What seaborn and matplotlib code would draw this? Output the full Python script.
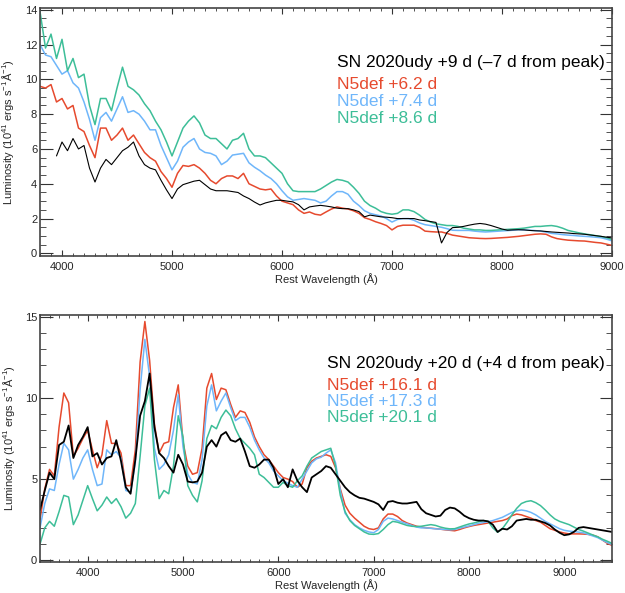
import numpy as np
import matplotlib
matplotlib.use("Agg")
import matplotlib.pyplot as plt
from matplotlib.ticker import MultipleLocator
import seaborn as sns

sns.set_style("ticks")
plt.rcParams['font.family'] = ['Liberation Sans', 'DejaVu Sans']
plt.rcParams['mathtext.fontset'] = 'custom'
plt.rcParams['mathtext.rm'] = 'Liberation Sans'
plt.rcParams['mathtext.it'] = 'Liberation Sans:italic'

RED = '#E64A2E'
BLUE = '#6FB6FA'
GREEN = '#3DBE98'

# ---- top panel: SN 2020udy +9 d vs N5def models (grid 3800..9000, 50 A) ----
wave_top = np.arange(3800, 9001, 50)

obs_top = [
    np.nan, np.nan, np.nan, 5.6, 6.4, 5.9, 6.6, 6.0, 6.2, 4.9,
    4.1, 4.9, 5.4, 5.1, 5.5, 5.9, 6.1, 6.4, 5.6, 5.1,
    4.9, 4.8, 4.2, 3.65, 3.15, 3.7, 3.95, 4.05, 4.15, 4.2,
    3.95, 3.7, 3.6, 3.6, 3.6, 3.55, 3.5, 3.3, 3.15, 2.95,
    2.78, 2.9, 2.98, 3.05, 3.05, 3.0, 2.96, 2.8, 2.5, 2.67,
    2.72, 2.76, 2.72, 2.67, 2.6, 2.57, 2.57, 2.5, 2.4, 2.1,
    2.2, 2.15, 2.1, 2.08, 2.05, 2.0, 2.0, 2.0, 2.0, 1.92,
    1.88, 1.83, 1.78, 0.6, 1.2, 1.48, 1.5, 1.55, 1.62, 1.68,
    1.72, 1.68, 1.6, 1.5, 1.4, 1.33, 1.35, 1.36, 1.35, 1.32,
    1.3, 1.29, 1.26, 1.23, 1.21, 1.19, 1.17, 1.14, 1.12, 1.1,
    1.06, 1.02, 0.98, 0.93, 0.89,
]
n5def_62 = [
    9.6, 9.5, 9.7, 8.7, 8.9, 8.3, 8.5, 7.2, 7.0, 6.2,
    5.5, 7.2, 7.2, 6.5, 6.8, 7.2, 6.5, 6.8, 6.3, 5.8,
    5.5, 5.3, 4.7, 4.3, 3.8, 4.6, 5.05, 5.0, 5.1, 4.9,
    4.6, 4.2, 4.0, 4.3, 4.45, 4.45, 4.3, 4.6, 4.0, 3.85,
    3.7, 3.65, 3.7, 3.3, 3.0, 2.9, 2.8, 2.5, 2.3, 2.38,
    2.25, 2.2, 2.38, 2.55, 2.67, 2.6, 2.55, 2.45, 2.3, 2.05,
    1.95, 1.82, 1.72, 1.6, 1.35, 1.55, 1.62, 1.62, 1.62, 1.5,
    1.28, 1.25, 1.23, 1.23, 1.15, 1.05, 1.0, 0.95, 0.9, 0.88,
    0.86, 0.85, 0.86, 0.88, 0.9, 0.92, 0.95, 0.98, 1.02, 1.06,
    1.1, 1.12, 1.1, 0.95, 0.85, 0.8, 0.76, 0.74, 0.72, 0.71,
    0.67, 0.63, 0.6, 0.53, 0.46,
]
n5def_74 = [
    12.0, 11.4, 11.3, 10.8, 10.3, 10.5, 9.8, 9.5, 8.7, 7.7,
    6.5, 7.8, 8.1, 7.6, 8.3, 9.0, 8.1, 8.2, 8.0, 7.6,
    7.1, 7.1, 6.2, 5.5, 4.8, 5.3, 6.1, 6.4, 6.6, 6.0,
    5.8, 5.75, 5.6, 5.1, 5.3, 5.65, 5.7, 5.75, 5.2, 4.95,
    4.75, 4.5, 4.3, 4.0, 3.6, 3.25, 3.05, 3.1, 3.15, 3.1,
    3.05, 2.9, 3.0, 3.3, 3.55, 3.55, 3.4, 3.0, 2.75, 2.45,
    2.3, 2.22, 2.15, 2.0, 1.8, 1.95, 2.0, 2.0, 1.9, 1.75,
    1.65, 1.6, 1.55, 1.5, 1.42, 1.33, 1.32, 1.32, 1.32, 1.28,
    1.25, 1.23, 1.25, 1.27, 1.29, 1.31, 1.33, 1.36, 1.35, 1.33,
    1.31, 1.28, 1.22, 1.15, 1.12, 1.08, 1.05, 1.03, 1.0, 0.98,
    0.96, 0.93, 0.9, 0.82, 0.72,
]
n5def_86 = [
    13.9, 11.8, 12.6, 11.2, 12.3, 10.5, 11.2, 10.1, 10.3, 8.5,
    7.4, 8.9, 8.9, 8.2, 9.5, 10.7, 9.6, 9.4, 9.1, 8.6,
    8.2, 7.6, 7.1, 6.4, 5.6, 6.4, 7.2, 7.6, 7.9, 7.5,
    6.8, 6.6, 6.6, 6.3, 6.0, 6.5, 6.6, 6.9, 6.0, 5.6,
    5.6, 5.5, 5.2, 4.9, 4.6, 4.0, 3.6, 3.55, 3.55, 3.55,
    3.55, 3.7, 3.9, 4.1, 4.25, 4.2, 4.1, 3.8, 3.45, 3.0,
    2.75, 2.6, 2.4, 2.3, 2.25, 2.3, 2.5, 2.5, 2.4, 2.2,
    1.95, 1.8, 1.7, 1.65, 1.6, 1.6, 1.55, 1.45, 1.4, 1.35,
    1.35, 1.32, 1.32, 1.34, 1.36, 1.38, 1.4, 1.42, 1.45, 1.5,
    1.55, 1.55, 1.58, 1.6, 1.55, 1.45, 1.32, 1.25, 1.18, 1.12,
    1.07, 1.02, 0.97, 0.9, 0.8,
]

# ---- bottom panel: SN 2020udy +20 d vs N5def models (grid 3500..9500, 50 A) ----
wave_bot = np.arange(3500, 9501, 50)

obs_bot = [
    3.1, 4.3, 5.4, 5.0, 7.1, 7.3, 8.3, 6.3, 7.1, 7.6,
    8.2, 6.4, 6.6, 5.9, 6.3, 6.4, 7.4, 6.1, 4.5, 4.1,
    6.2, 8.9, 9.8, 11.5, 8.2, 6.6, 6.3, 5.8, 5.4, 6.5,
    5.9, 4.85, 4.8, 4.85, 5.4, 7.0, 7.4, 7.0, 7.7, 7.9,
    7.4, 7.3, 7.5, 6.7, 5.8, 5.7, 5.9, 6.2, 6.2, 5.7,
    4.7, 5.0, 4.5, 5.6, 4.9, 4.5, 4.2, 5.1, 5.3, 5.5,
    5.8, 5.7, 5.3, 4.9, 4.5, 4.2, 4.0, 3.85, 3.8, 3.7,
    3.6, 3.45, 3.1, 3.6, 3.65, 3.55, 3.5, 3.5, 3.55, 3.6,
    3.15, 2.9, 2.8, 2.7, 2.75, 3.1, 3.25, 3.2, 3.0, 2.75,
    2.6, 2.5, 2.45, 2.45, 2.4, 2.2, 1.75, 1.95, 1.9, 2.1,
    2.45, 2.5, 2.55, 2.5, 2.5, 2.4, 2.3, 2.15, 1.9, 1.7,
    1.55, 1.6, 1.75, 2.0, 2.05, 2.0, 1.95, 1.9, 1.85, 1.8,
    1.75,
]
n5def_161 = [
    2.5, 4.4, 5.6, 5.2, 8.2, 10.3, 9.7, 6.4, 6.9, 7.5,
    8.0, 6.8, 5.7, 6.5, 8.6, 7.2, 7.2, 6.6, 4.6, 4.6,
    6.8, 12.2, 14.7, 12.3, 8.4, 6.6, 7.2, 7.3, 9.4, 10.8,
    7.3, 5.8, 5.3, 5.4, 6.9, 10.6, 11.5, 9.9, 10.6, 10.5,
    9.6, 8.8, 9.2, 9.1, 8.5, 7.6, 7.0, 6.5, 6.2, 5.8,
    5.4, 5.1, 5.0, 4.85, 4.5, 4.7, 5.7, 6.1, 6.3, 6.4,
    6.5, 6.4, 5.7, 4.4, 3.4, 2.9, 2.6, 2.35, 2.1, 1.95,
    1.9, 2.0, 2.55, 2.85, 2.85, 2.7, 2.45, 2.3, 2.2, 2.1,
    2.05, 2.0, 1.98, 1.95, 1.92, 1.88, 1.85, 1.82, 1.9, 2.0,
    2.08, 2.15, 2.2, 2.25, 2.3, 2.35, 2.4, 2.45, 2.55, 2.75,
    2.85, 2.8, 2.7, 2.6, 2.45, 2.35, 2.15, 1.95, 1.85, 1.75,
    1.68, 1.63, 1.63, 1.63, 1.62, 1.6, 1.55, 1.45, 1.25, 1.05,
    0.92,
]
n5def_173 = [
    2.0, 3.5, 4.4, 4.3, 5.9, 7.2, 6.8, 5.0, 5.6, 6.3,
    6.8, 5.6, 4.6, 4.7, 6.8, 6.5, 6.7, 6.3, 4.3, 4.2,
    6.0, 10.5, 13.6, 11.3, 6.9, 5.6, 5.9, 6.5, 8.0, 10.2,
    7.0, 5.3, 4.8, 4.7, 6.2, 9.5, 10.8, 9.2, 9.8, 10.3,
    9.4, 8.6, 8.8, 8.8, 8.2, 7.4, 6.8, 6.3, 6.0, 5.5,
    5.2, 4.9, 4.75, 4.6, 4.5, 5.0, 5.5, 6.0, 6.25, 6.35,
    6.6, 6.8, 6.0, 4.3, 2.9, 2.5, 2.2, 2.0, 1.85, 1.75,
    1.7, 1.9, 2.4, 2.6, 2.55, 2.45, 2.35, 2.25, 2.15, 2.05,
    2.0, 2.0, 1.97, 1.94, 1.92, 1.9, 1.88, 1.9, 1.98, 2.05,
    2.12, 2.2, 2.28, 2.33, 2.38, 2.45, 2.55, 2.65, 2.8, 2.95,
    3.05, 3.1, 3.05, 2.95, 2.8, 2.6, 2.4, 2.25, 2.1, 1.95,
    1.85, 1.8, 1.77, 1.74, 1.7, 1.6, 1.5, 1.4, 1.25, 1.1,
    0.98,
]
n5def_201 = [
    1.0, 2.0, 2.4, 2.1, 3.0, 4.0, 3.9, 2.2, 2.8, 3.7,
    4.6, 3.8, 3.05, 3.4, 3.9, 3.5, 3.8, 3.3, 2.6, 2.9,
    3.5, 6.4, 9.5, 10.6, 6.2, 3.8, 4.3, 4.1, 5.8, 8.9,
    7.6, 4.6, 4.0, 3.6, 4.9, 7.5, 8.3, 8.1, 8.8, 9.25,
    8.9, 8.1, 7.5, 7.2, 6.9, 6.5, 5.3, 5.1, 4.8, 4.5,
    4.5, 4.8, 4.6, 4.5, 4.9, 5.2, 5.8, 6.3, 6.5, 6.7,
    6.8, 6.9, 5.8, 4.0, 3.0, 2.45, 2.15, 1.95, 1.75, 1.62,
    1.6, 1.65, 1.9, 2.2, 2.4, 2.35, 2.25, 2.15, 2.1, 2.08,
    2.1, 2.15, 2.2, 2.15, 2.05, 1.98, 1.94, 1.95, 2.05, 2.15,
    2.24, 2.3, 2.38, 2.45, 2.4, 2.0, 1.73, 1.95, 2.35, 2.8,
    3.2, 3.5, 3.62, 3.67, 3.55, 3.37, 3.1, 2.8, 2.55, 2.4,
    2.3, 2.2, 2.05, 1.9, 1.8, 1.68, 1.56, 1.45, 1.3, 1.18,
    1.05,
]

labels_top = ['SN 2020udy +9 d (\u20137 d from peak)',
              'N5def +6.2 d', 'N5def +7.4 d', 'N5def +8.6 d']
labels_bot = ['SN 2020udy +20 d (+4 d from peak)',
              'N5def +16.1 d', 'N5def +17.3 d', 'N5def +20.1 d']
colors = ['black', RED, BLUE, GREEN]

fig = plt.figure(figsize=(6.25, 5.93), dpi=100)
ax1 = fig.add_axes([40 / 625, 1 - 256 / 593, 572 / 625, 248 / 593])
ax2 = fig.add_axes([40 / 625, 1 - 562 / 593, 572 / 625, 247 / 593])

for y, c in zip([n5def_62, n5def_74, n5def_86], [RED, BLUE, GREEN]):
    sns.lineplot(x=wave_top, y=y, color=c, lw=1.1, ax=ax1)
sns.lineplot(x=wave_top, y=obs_top, color='black', lw=0.8, ax=ax1)

for y, c in zip([n5def_161, n5def_173, n5def_201], [RED, BLUE, GREEN]):
    sns.lineplot(x=wave_bot, y=y, color=c, lw=1.1, ax=ax2)
sns.lineplot(x=wave_bot, y=obs_bot, color='black', lw=1.3, ax=ax2)

ylab = r'Luminosity (10$^{41}$ ergs s$^{-1}$$\mathrm{\AA}^{-1}$)'
for ax, xlim, ylim, ymaj, ymin in [(ax1, (3800, 9000), (-0.15, 14.1), 2, 0.5),
                                   (ax2, (3500, 9500), (-0.1, 15.1), 5, 1)]:
    ax.set_xlim(*xlim)
    ax.set_ylim(*ylim)
    ax.xaxis.set_major_locator(MultipleLocator(1000))
    ax.xaxis.set_minor_locator(MultipleLocator(100))
    ax.yaxis.set_major_locator(MultipleLocator(ymaj))
    ax.yaxis.set_minor_locator(MultipleLocator(ymin))
    ax.tick_params(axis='both', which='both', direction='in', top=True,
                   right=True, labelsize=8, color='#333333')
    ax.tick_params(axis='x', which='major', length=4.5, width=0.8, pad=4)
    ax.tick_params(axis='x', which='minor', length=2.4, width=0.6)
    ax.tick_params(axis='y', which='major', length=9, width=0.8, pad=2)
    ax.tick_params(axis='y', which='minor', length=4.3, width=0.6)
    for sp in ax.spines.values():
        sp.set_linewidth(1.2)
        sp.set_color('#444444')
    ax.set_xlabel('Rest Wavelength (\u00c5)', fontsize=8, labelpad=1)
    ax.set_ylabel(ylab, fontsize=8, labelpad=6)

for ax, labels, x0, ys in [(ax1, labels_top, 0.519, [0.763, 0.673, 0.605, 0.535]),
                           (ax2, labels_bot, 0.501, [0.784, 0.696, 0.632, 0.568])]:
    for lab, c, yy in zip(labels, colors, ys):
        ax.text(x0, yy, lab, color=c, fontsize=12.5, transform=ax.transAxes,
                ha='left', va='baseline')

fig.savefig('out.png', dpi=100)
